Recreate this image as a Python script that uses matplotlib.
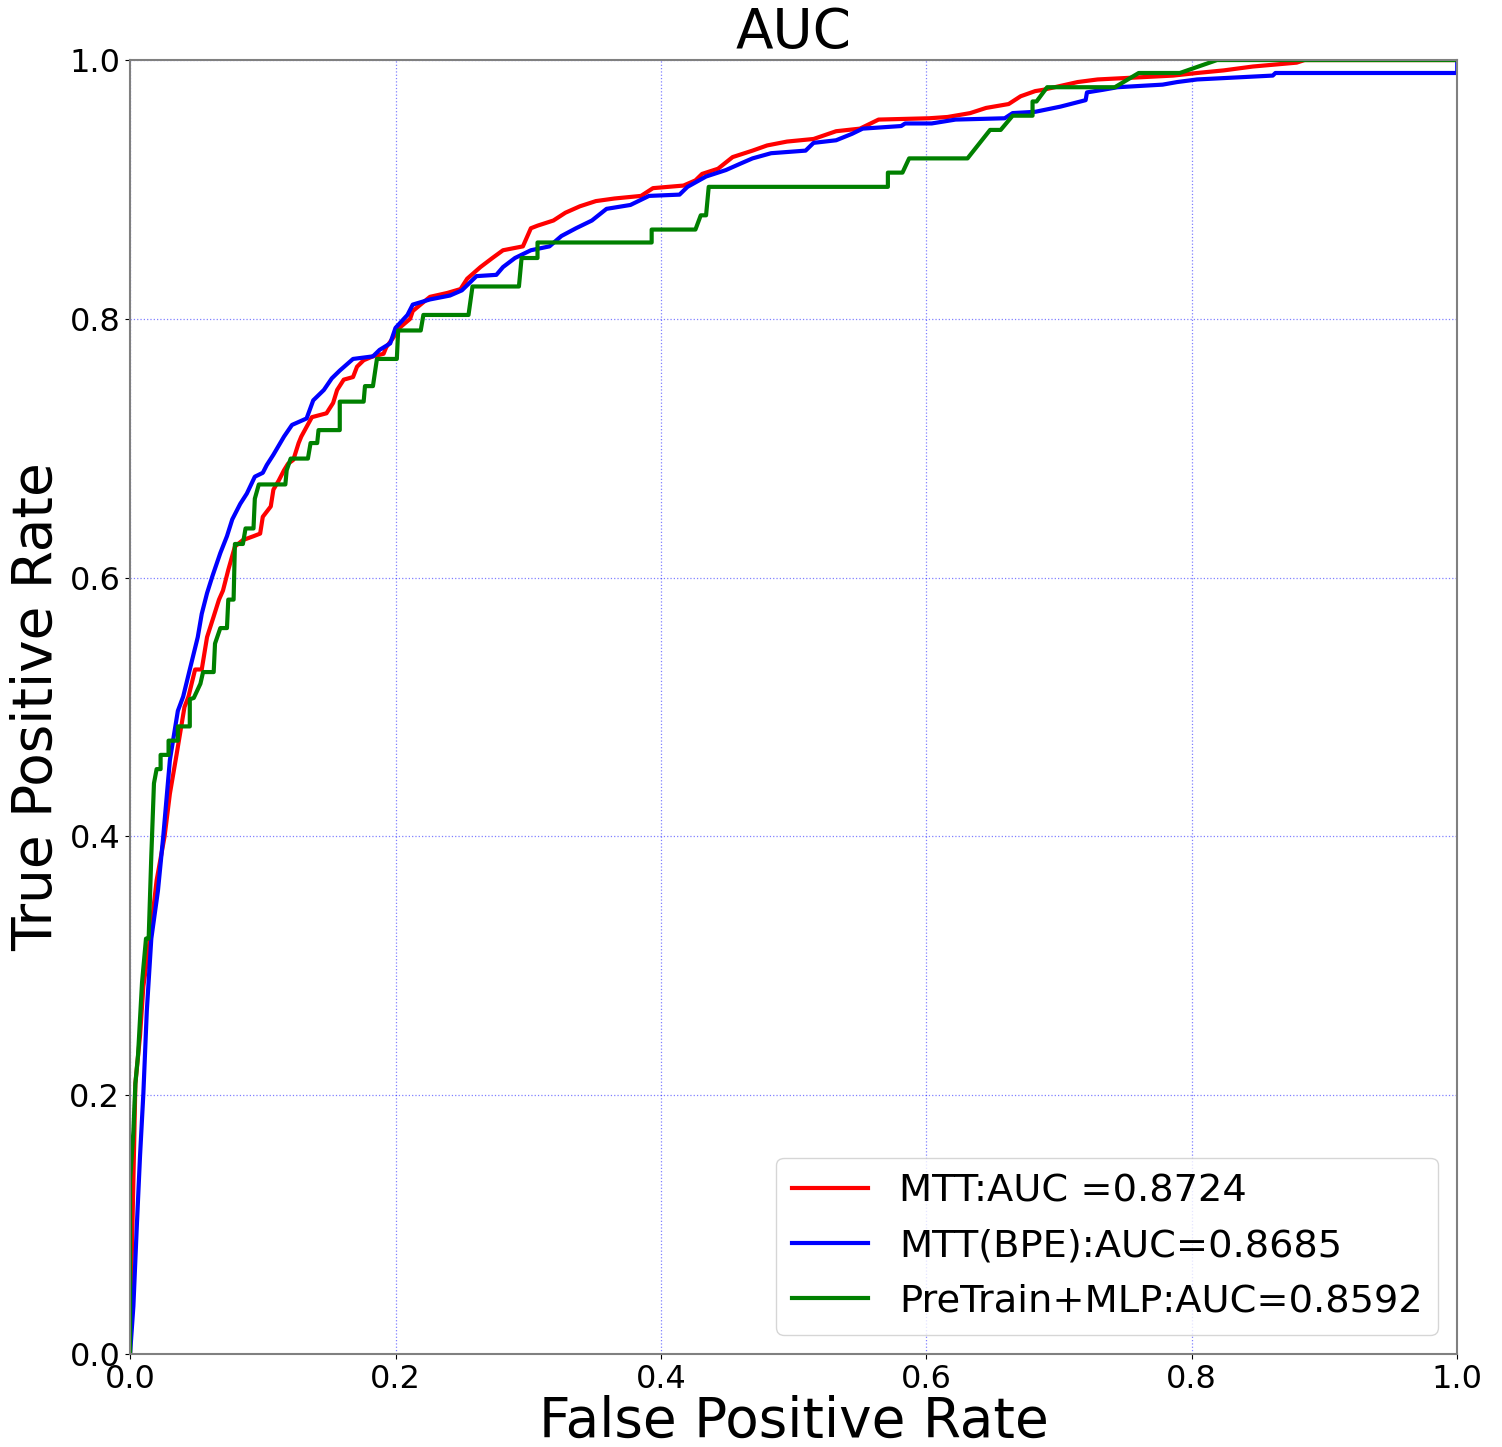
import matplotlib
matplotlib.use('Agg')
from matplotlib import pyplot as plt

# ROC points (fpr, tpr)
mtt_roc = [(0, 0), (0, 0.014), (0.0025, 0.134), (0.004, 0.209), (0.0075, 0.246), (0.010, 0.284),
           (0.015, 0.321), (0.020, 0.366), (0.026, 0.400), (0.030, 0.433), (0.035, 0.463),
           (0.041, 0.500), (0.044, 0.508), (0.049, 0.529), (0.054, 0.529), (0.058, 0.554),
           (0.063, 0.570), (0.067, 0.583), (0.070, 0.590), (0.074, 0.606), (0.079, 0.624),
           (0.085, 0.629), (0.093, 0.632), (0.098, 0.634), (0.100, 0.647), (0.106, 0.655),
           (0.108, 0.668), (0.112, 0.675), (0.116, 0.683), (0.119, 0.688), (0.123, 0.691),
           (0.127, 0.704), (0.129, 0.709), (0.137, 0.724), (0.148, 0.727), (0.153, 0.735),
           (0.156, 0.745), (0.161, 0.753), (0.168, 0.755), (0.171, 0.763), (0.176, 0.768),
           (0.183, 0.771), (0.191, 0.773), (0.193, 0.778), (0.198, 0.785), (0.203, 0.793),
           (0.211, 0.800), (0.213, 0.806), (0.220, 0.812), (0.226, 0.817), (0.239, 0.820),
           (0.249, 0.823), (0.254, 0.831), (0.264, 0.840), (0.273, 0.847), (0.281, 0.853),
           (0.296, 0.856), (0.302, 0.870), (0.307, 0.872), (0.319, 0.876), (0.328, 0.882),
           (0.339, 0.887), (0.351, 0.891), (0.365, 0.893), (0.385, 0.895), (0.394, 0.901),
           (0.417, 0.903), (0.426, 0.907), (0.431, 0.912), (0.443, 0.916), (0.454, 0.925),
           (0.469, 0.930), (0.480, 0.934), (0.495, 0.937), (0.515, 0.939), (0.532, 0.945),
           (0.550, 0.947), (0.564, 0.954), (0.602, 0.955), (0.616, 0.956), (0.633, 0.959),
           (0.645, 0.963), (0.662, 0.966), (0.671, 0.972), (0.682, 0.976), (0.688, 0.977),
           (0.714, 0.983), (0.729, 0.985), (0.786, 0.988), (0.804, 0.990), (0.824, 0.992),
           (0.846, 0.995), (0.857, 0.996), (0.879, 0.998), (0.885, 1.0), (1.0, 1.0)]

bpe_roc = [(0, 0), (0.0025, 0.037), (0.005, 0.097), (0.0075, 0.153), (0.010, 0.201), (0.0126, 0.265),
           (0.016, 0.321), (0.021, 0.358), (0.025, 0.400), (0.030, 0.459), (0.036, 0.497),
           (0.040, 0.508), (0.045, 0.529), (0.051, 0.554), (0.054, 0.572), (0.058, 0.588),
           (0.062, 0.601), (0.068, 0.619), (0.073, 0.632), (0.077, 0.645), (0.083, 0.657),
           (0.088, 0.665), (0.094, 0.678), (0.100, 0.681), (0.103, 0.687), (0.108, 0.695),
           (0.116, 0.709), (0.122, 0.718), (0.133, 0.723), (0.138, 0.737), (0.146, 0.745),
           (0.152, 0.754), (0.158, 0.760), (0.168, 0.769), (0.183, 0.771), (0.188, 0.776),
           (0.196, 0.781), (0.200, 0.793), (0.209, 0.803), (0.213, 0.811), (0.226, 0.815),
           (0.241, 0.818), (0.250, 0.822), (0.261, 0.833), (0.276, 0.834), (0.281, 0.840),
           (0.290, 0.847), (0.302, 0.853), (0.316, 0.856), (0.325, 0.864), (0.336, 0.870),
           (0.348, 0.876), (0.359, 0.885), (0.377, 0.888), (0.391, 0.895), (0.414, 0.896),
           (0.420, 0.902), (0.434, 0.910), (0.449, 0.915), (0.460, 0.920), (0.469, 0.924),
           (0.483, 0.928), (0.509, 0.930), (0.515, 0.936), (0.532, 0.938), (0.544, 0.943),
           (0.552, 0.947), (0.581, 0.949), (0.584, 0.951), (0.604, 0.951), (0.622, 0.954),
           (0.659, 0.955), (0.665, 0.959), (0.682, 0.960), (0.701, 0.964), (0.720, 0.969),
           (0.721, 0.975), (0.733, 0.977), (0.744, 0.979), (0.778, 0.981), (0.789, 0.983),
           (0.804, 0.985), (0.861, 0.988), (0.863, 0.990), (1.0, 0.990), (1.0, 1.0)]

mlp_roc = [(0, 0), (0, 0.134), (0.0025, 0.172), (0.004, 0.209), (0.006, 0.231), (0.009, 0.287),
           (0.012, 0.321), (0.014, 0.321), (0.016, 0.385), (0.018, 0.441), (0.020, 0.452),
           (0.023, 0.452), (0.023, 0.463), (0.029, 0.463), (0.029, 0.474), (0.036, 0.474),
           (0.036, 0.485), (0.045, 0.485), (0.045, 0.506), (0.048, 0.507), (0.053, 0.518),
           (0.055, 0.527), (0.063, 0.527), (0.064, 0.549), (0.068, 0.561), (0.073, 0.561),
           (0.074, 0.583), (0.078, 0.583), (0.079, 0.626), (0.085, 0.626), (0.087, 0.638),
           (0.093, 0.638), (0.094, 0.661), (0.097, 0.672), (0.117, 0.672), (0.118, 0.683),
           (0.121, 0.692), (0.134, 0.692), (0.136, 0.704), (0.141, 0.704), (0.142, 0.714),
           (0.158, 0.714), (0.158, 0.736), (0.176, 0.736), (0.177, 0.748), (0.183, 0.748),
           (0.186, 0.769), (0.201, 0.769), (0.202, 0.791), (0.219, 0.791), (0.221, 0.803),
           (0.255, 0.803), (0.258, 0.825), (0.293, 0.825), (0.295, 0.847), (0.307, 0.847),
           (0.307, 0.859), (0.393, 0.859), (0.393, 0.869), (0.426, 0.869), (0.430, 0.880),
           (0.434, 0.880), (0.436, 0.902), (0.571, 0.902), (0.571, 0.913), (0.582, 0.913),
           (0.587, 0.924), (0.631, 0.924), (0.648, 0.946), (0.656, 0.946), (0.665, 0.957),
           (0.680, 0.957), (0.680, 0.968), (0.683, 0.968), (0.691, 0.979), (0.742, 0.979),
           (0.760, 0.990), (0.791, 0.990), (0.819, 1.0), (1.0, 1.0)]

labels = ['MTT:AUC =0.8724', 'MTT(BPE):AUC=0.8685', 'PreTrain+MLP:AUC=0.8592']
line_colors = ['red', 'blue', 'green']
ticks = [0.0, 0.2, 0.4, 0.6, 0.8, 1.0]

fig = plt.figure(figsize=(15.02, 14.47), dpi=100)
ax = fig.add_axes([0.0866, 0.0643, 0.8836, 0.8942])

for roc, lab, c in zip([mtt_roc, bpe_roc, mlp_roc], labels, line_colors):
    fpr, tpr = zip(*roc)
    ax.plot(fpr, tpr, color=c, lw=3, label=lab)

ax.set_xlim(0, 1)
ax.set_ylim(0, 1)
ax.set_xticks(ticks)
ax.set_yticks(ticks)
ax.tick_params(labelsize=23)
ax.grid(color='blue', linestyle=':', lw=0.9, alpha=0.5)
for s in ax.spines.values():
    s.set_color('0.5')
    s.set_linewidth(1.5)

ax.set_title('AUC', fontsize=39.5, pad=3)
ax.set_xlabel('False Positive Rate', fontsize=39.5, labelpad=0)
ax.set_ylabel('True Positive Rate', fontsize=39.5, labelpad=4)
ax.legend(loc='lower right', fontsize=27.6)

fig.savefig('out.png', dpi=100)
